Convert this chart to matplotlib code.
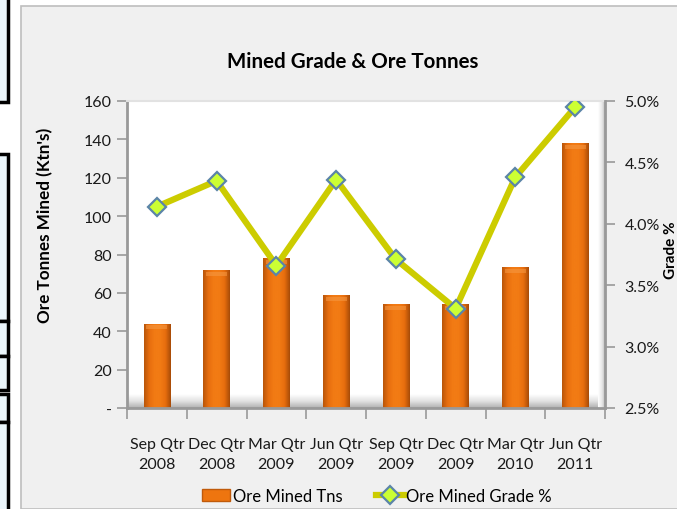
import numpy as np
import matplotlib
matplotlib.use("Agg")
import matplotlib.pyplot as plt
from matplotlib.patches import Rectangle
from matplotlib.lines import Line2D
from matplotlib.colors import LinearSegmentedColormap

# ---- data ----
categories = ["Sep Qtr\n2008", "Dec Qtr\n2008", "Mar Qtr\n2009", "Jun Qtr\n2009",
              "Sep Qtr\n2009", "Dec Qtr\n2009", "Mar Qtr\n2010", "Jun Qtr\n2011"]
ore_tonnes = [44, 72, 78, 59, 54, 54, 73.5, 138]
grade_pct = [4.14, 4.35, 3.66, 4.36, 3.71, 3.31, 4.38, 4.95]
left_ticks = [0, 20, 40, 60, 80, 100, 120, 140, 160]
left_tick_labels = ["-", "20", "40", "60", "80", "100", "120", "140", "160"]
right_ticks = [2.5, 3.0, 3.5, 4.0, 4.5, 5.0]
right_tick_labels = ["2.5%", "3.0%", "3.5%", "4.0%", "4.5%", "5.0%"]

FONT = "Lato"
plt.rcParams["font.family"] = [FONT, "DejaVu Sans"]

W, H = 677, 510
fig = plt.figure(figsize=(W / 100, H / 100), dpi=100)
fig.patch.set_facecolor("white")

def fx(px):
    return px / W

def fy(py):
    return 1 - py / H

# chart frame background
fig.patches.append(Rectangle((fx(21), 0), 1 - fx(21) + 0.01, fy(7), transform=fig.transFigure,
                             facecolor="#F0F0F0", edgecolor="#BEBEBE", lw=1.2, zorder=-10))
# screenshot artifacts on the left
lb = "#EAF5FB"
fig.patches.append(Rectangle((-0.01, fy(103)), fx(8) + 0.01, 1 - fy(103) + 0.01, transform=fig.transFigure,
                             facecolor=lb, edgecolor="black", lw=2.5, zorder=-10))
for (a, b) in [(155, 322), (322, 357), (357, 391), (395, 423), (423, 515)]:
    fig.patches.append(Rectangle((-0.01, fy(b)), fx(8) + 0.01, fy(a) - fy(b), transform=fig.transFigure,
                                 facecolor=lb, edgecolor="black", lw=2.5, zorder=-10))

ax = fig.add_axes([fx(127), fy(409), fx(605) - fx(127), (409 - 102) / H])
ax.set_facecolor("white")
x = np.arange(len(categories))

# 3D-ish floor and wall shading
floor = np.linspace(0, 1, 64).reshape(-1, 1)
cmap_floor = LinearSegmentedColormap.from_list("f", ["#B0B0B0", "#E2E2E2", "#FFFFFF"])
ax.imshow(floor, extent=[0, 1, 0, 0.045], transform=ax.transAxes, cmap=cmap_floor,
          aspect="auto", origin="lower", zorder=0.5)
wall = np.linspace(0, 1, 64).reshape(1, -1)
cmap_wall = LinearSegmentedColormap.from_list("w", ["#FFFFFF", "#E8E8E8", "#B0B0B0"])
ax.imshow(wall, extent=[0.985, 1, 0, 1], transform=ax.transAxes, cmap=cmap_wall,
          aspect="auto", zorder=0.5)

bars = ax.bar(x, ore_tonnes, width=0.44, color="#EE750F", zorder=2, edgecolor="none")
cmap_bar = LinearSegmentedColormap.from_list(
    "b", ["#B9560A", "#E86E0E", "#F27B14", "#F27B14", "#E86E0E", "#A84C08"])
grad = np.linspace(0, 1, 64).reshape(1, -1)
for b in bars:
    x0, y0 = b.get_x(), b.get_y()
    w, h = b.get_width(), b.get_height()
    im = ax.imshow(grad, extent=[x0, x0 + w, y0, y0 + h], cmap=cmap_bar, aspect="auto", zorder=2.1)
    im.set_clip_path(b)
    ax.add_patch(Rectangle((x0 + w * 0.1, y0 + h - 3.0), w * 0.8, 2.0, facecolor="#F69A45",
                           edgecolor="none", alpha=0.55, zorder=2.2))
ax.set_xlim(-0.5, len(categories) - 0.5)
ax.set_ylim(0, 160)

ax.set_yticks(left_ticks)
ax.set_yticklabels(left_tick_labels, fontsize=11.5, color="#1a1a1a")
ax.set_xticks(x)
ax.set_xticklabels(categories, fontsize=11.5, color="#1a1a1a", linespacing=1.5)
ax.set_xticks(np.arange(-0.5, len(categories), 1.0), minor=True)
ax.tick_params(axis="x", which="major", length=0, pad=21)
ax.tick_params(axis="x", which="minor", length=8, color="#999999", width=1.2, direction="out")
ax.tick_params(axis="y", length=7, color="#999999", width=1.2, direction="out", pad=4)

ax.spines["top"].set_color("#E2E2E2")
ax.spines["top"].set_linewidth(1.5)
ax.spines["left"].set_color("#999999")
ax.spines["left"].set_linewidth(2.0)
ax.spines["bottom"].set_color("#999999")
ax.spines["bottom"].set_linewidth(2.0)
ax.spines["right"].set_visible(False)

ax2 = ax.twinx()
ax2.set_ylim(2.5, 5.0)
ax2.plot(x, grade_pct, color="#CCCC00", lw=4.5, marker="D", markersize=9.5,
         markerfacecolor="#CCFF33", markeredgecolor="#5B85A8", markeredgewidth=1.6, zorder=5,
         solid_joinstyle="miter")
ax2.set_yticks(right_ticks)
ax2.set_yticklabels(right_tick_labels, fontsize=11.5, color="#1a1a1a")
ax2.tick_params(axis="y", length=7, color="#999999", width=1.2, direction="out", pad=7)
ax2.spines["right"].set_color("#999999")
ax2.spines["right"].set_linewidth(2.0)
for s in ["top", "left", "bottom"]:
    ax2.spines[s].set_visible(False)
ax2.set_xlim(-0.5, len(categories) - 0.5)

fig.text(fx(353), fy(62), "Mined Grade & Ore Tonnes", ha="center", va="center",
         fontsize=14.8, fontweight="bold", color="black")
fig.text(fx(45), fy(225), "Ore Tonnes Mined (Ktn's)", ha="center", va="center", rotation=90,
         fontsize=12.3, fontweight="bold", color="black")
fig.text(fx(671), fy(250), "Grade %", ha="center", va="center", rotation=90,
         fontsize=11, fontweight="bold", color="black")

handles = [Rectangle((0, 0), 1, 1, facecolor="#EE750F", edgecolor="#C05A0A"),
           Line2D([0], [0], color="#CCCC00", lw=4.5, marker="D", markersize=9.5,
                  markerfacecolor="#CCFF33", markeredgecolor="#5B85A8", markeredgewidth=1.6)]
fig.legend(handles, ["Ore Mined Tns", "Ore Mined Grade %"], loc="center",
           bbox_to_anchor=(fx(377), fy(497)), ncol=2, frameon=False, fontsize=12,
           handlelength=1.7, handletextpad=0.15, columnspacing=2.0)

fig.savefig("out.png", dpi=100, facecolor=fig.get_facecolor())
